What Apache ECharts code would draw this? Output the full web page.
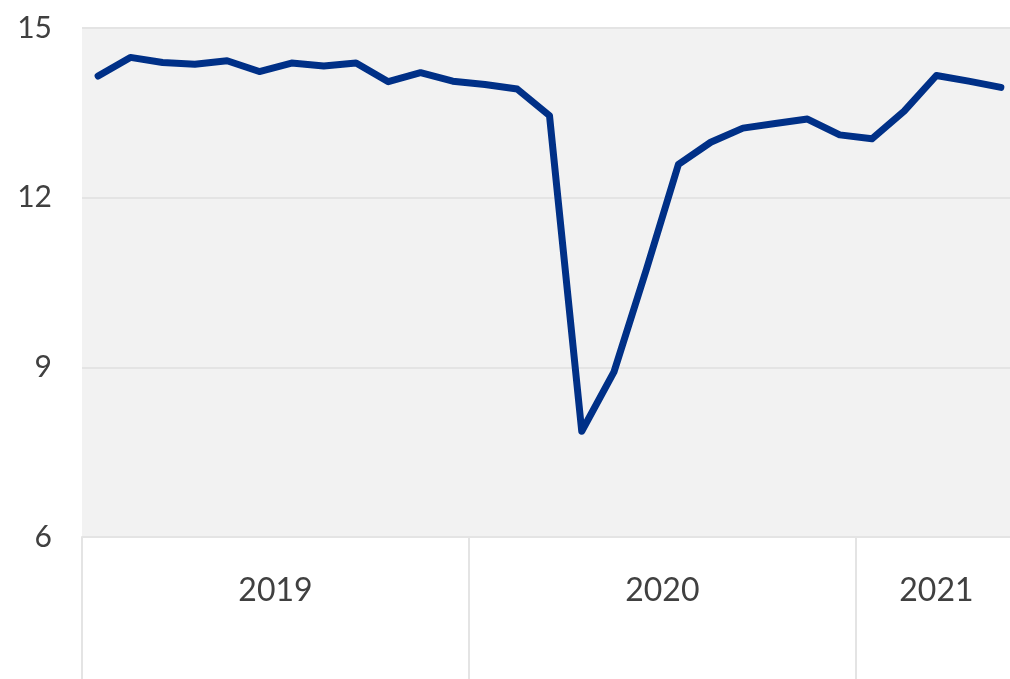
<!DOCTYPE html>
<html>
<head>
<meta charset="utf-8">
<title>Monthly series 2019–2021</title>
<script src="https://cdn.jsdelivr.net/npm/echarts@6/dist/echarts.min.js"></script>
<style>
  html, body { margin: 0; padding: 0; background: #ffffff; }
  #chart { width: 1010px; height: 679px; }
</style>
</head>
<body>
<div id="chart"></div>
<script>
// Calendar years shown on the lower axis and how many months each contributes
const years = ['2019', '2020', '2021'];
const monthsPerYear = [12, 12, 5];

// Monthly values, January 2019 to May 2021
const values = [
  14.15, 14.48, 14.39, 14.36, 14.42, 14.23, 14.38, 14.33, 14.38, 14.05, 14.21, 14.06,
  14.00, 13.92, 13.45, 7.87, 8.92, 10.72, 12.59, 12.98, 13.23, 13.31, 13.39, 13.11,
  13.04, 13.53, 14.16, 14.06, 13.95
];

// Value-axis tick labels
const yTicks = [6, 9, 12, 15];

// Month categories built from the year list
const months = [];
years.forEach((y, i) => {
  for (let m = 1; m <= monthsPerYear[i]; m++) {
    months.push(y + '-' + String(m).padStart(2, '0'));
  }
});

// Year boundaries and midpoints in month units for the year band axis
const yearStarts = [];
const yearMids = [];
let acc = 0;
monthsPerYear.forEach(n => {
  yearStarts.push(acc);
  yearMids.push(acc + n / 2);
  acc += n;
});
const totalMonths = acc;

const gridLine = '#E4E4E4';
const labelColor = '#404040';
const fontFamily = 'Lato, "Open Sans", sans-serif';

const chart = echarts.init(document.getElementById('chart'), null, { renderer: 'canvas' });

chart.setOption({
  animation: false,
  grid: {
    left: 82,
    right: -7,   // the last month runs a little past the right edge of the canvas
    top: 28,
    bottom: 142,
    outerBoundsMode: 'none',
    show: true,
    backgroundColor: '#F2F2F2',
    borderWidth: 0,
    containLabel: false
  },
  xAxis: [
    {
      type: 'category',
      data: months,
      boundaryGap: true,
      axisLine: { show: false },
      axisTick: { show: false },
      axisLabel: { show: false },
      splitLine: { show: false }
    },
    {
      type: 'value',
      position: 'bottom',
      min: 0,
      max: totalMonths,
      axisLine: { show: true, lineStyle: { color: gridLine, width: 2 } },
      axisTick: {
        show: true,
        customValues: yearStarts.concat([totalMonths]),
        length: 142,
        lineStyle: { color: gridLine, width: 2 }
      },
      axisLabel: {
        show: true,
        customValues: yearMids,
        formatter: v => years[yearMids.indexOf(v)] || '',
        color: labelColor,
        fontFamily: fontFamily,
        fontSize: 32,
        verticalAlign: 'middle',
        margin: 54
      },
      splitLine: { show: false }
    }
  ],
  yAxis: {
    type: 'value',
    min: yTicks[0],
    max: yTicks[yTicks.length - 1],
    interval: yTicks[1] - yTicks[0],
    axisLine: { show: false },
    axisTick: { show: false },
    axisLabel: {
      color: labelColor,
      fontFamily: fontFamily,
      fontSize: 30,
      margin: 30
    },
    splitLine: { show: true, lineStyle: { color: gridLine, width: 2 } }
  },
  series: [
    {
      type: 'line',
      xAxisIndex: 0,
      data: values,
      symbol: 'none',
      lineStyle: { color: '#003087', width: 7, cap: 'round', join: 'round' }
    }
  ]
});
</script>
</body>
</html>
